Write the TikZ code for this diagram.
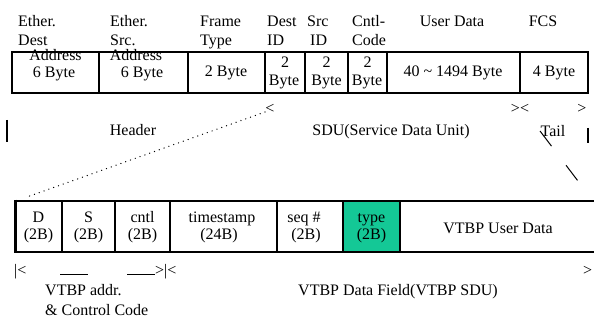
\documentclass[tikz,border=0pt]{standalone}
\usepackage{fontspec}
\setmainfont{Liberation Serif}
\definecolor{vtgreen}{RGB}{20,200,150}
\begin{document}
\begin{tikzpicture}[x=1pt,y=-1pt,font=\fontsize{16}{19}\selectfont,
  lw/.style={inner sep=0,anchor=base west},
  lc/.style={inner sep=0,anchor=base},
  outer/.style={line width=2pt},
  divider/.style={line width=2.5pt},
  thin divider/.style={line width=1.2pt},
  bar/.style={line width=2pt},
  dotconn/.style={line width=1.3pt,line cap=round,dash pattern=on 0.1pt off 5pt},
  dashconn/.style={line width=1pt,dash pattern=on 19pt off 24pt},
  rule/.style={line width=1pt}]
\useasboundingbox (0,0) rectangle (594,320);

% ---- labels above the frame
\node[lw] (l1a) at (18,26.5) {Ether.};
\node[lw] (l1b) at (18,45.5) {Dest};
\node[lw] (l2a) at (110,26.5) {Ether.};
\node[lw] (l2b) at (110,45.5) {Src.};
\node[lw] (l3a) at (200,26.5) {Frame};
\node[lw] (l3b) at (200,45.5) {Type};
\node[lw] (l4a) at (267,26.5) {Dest};
\node[lw] (l4b) at (267,45.5) {ID};
\node[lw] (l5a) at (307,26.5) {Src};
\node[lw] (l5b) at (310,45.5) {ID};
\node[lw] (l6a) at (352,26.5) {Cntl-};
\node[lw] (l6b) at (352,45.5) {Code};
\node[lc] (l7) at (452,26.5) {User Data};
\node[lc] (l8) at (543,26.5) {FCS};

% ---- contents of the frame
\node[lc] (c1a) at (55.5,61) {Address};
\node[lc] (c1b) at (54,78) {6 Byte};
\node[lc] (c2a) at (136,61) {Address};
\node[lc] (c2b) at (142,78) {6 Byte};
\node[lc] (c3) at (226,77) {2 Byte};
\node[lc] (c4a) at (285,67.5) {2};
\node[lc] (c4b) at (284,86) {Byte};
\node[lc] (c5a) at (326.5,67.5) {2};
\node[lc] (c5b) at (326.5,86) {Byte};
\node[lc] (c6a) at (367.5,67.5) {2};
\node[lc] (c6b) at (367,86) {Byte};
\node[lc] (c7) at (453,77) {40 \char"007E\ 1494 Byte};
\node[lc] (c8) at (554,77) {4 Byte};

% frame box
\draw[outer] (12,52) rectangle (588,93);
\foreach \x in {99,188,265,305,348,387,520}
  \draw[divider] (\x,52) -- (\x,93);

% ---- middle row
\node[lc] (mk1) at (270,114) {<};
\node[lc] (mk2) at (520,114) {><};
\node[lc] (mk3) at (582,114) {>};
\node[lc] (hdr) at (133,135.5) {Header};
\node[lc] (sdu) at (391,135.5) {SDU(Service Data Unit)};
\node[lc] (tail) at (553,137) {Tail};
\coordinate (barLa) at (7,120);
\coordinate (barLb) at (7,142);
\coordinate (barRa) at (588,128);
\coordinate (barRb) at (588,143);
\draw[bar] (barLa) -- (barLb);
\draw[bar] (barRa) -- (barRb);

% connectors from SDU to VTBP frame
\coordinate (sduStart) at (265,112);
\coordinate (vtL) at (27,197);
\coordinate (tailA) at (540,131);
\coordinate (tailB) at (581,185);
\draw[dotconn] (sduStart) -- (vtL);
\draw[dashconn] (tailA) -- (tailB);

% ---- VTBP frame
\fill[vtgreen] (343,201) rectangle (400,252);
\node[lc] (d1) at (38.5,222.5) {D};
\node[lc] (d2) at (38.5,240) {(2B)};
\node[lc] (s1) at (88.5,222.5) {S};
\node[lc] (s2) at (88.5,240) {(2B)};
\node[lc] (k1) at (142.5,222.5) {cntl};
\node[lc] (k2) at (142.5,240) {(2B)};
\node[lc] (t1) at (222,222.5) {timestamp};
\node[lc] (t2) at (219,240) {(24B)};
\node[lc] (q1) at (304,222.5) {seq \#};
\node[lc] (q2) at (306,240) {(2B)};
\node[lc] (y1) at (371.5,222.5) {type};
\node[lc] (y2) at (371.5,240) {(2B)};
\node[lc] (ud) at (498,233.5) {VTBP User Data};
\draw[line width=2.5pt] (15,201) -- (594,201);
\draw[line width=2.5pt] (15,252) -- (594,252);
\draw[line width=3pt] (15,199.75) -- (15,253.25);
\foreach \x in {62,115,170,277,343,400}
  \draw[thin divider] (\x,201) -- (\x,252);

% ---- bottom spans
\node[lw] (b1) at (14,276) {|<};
\node[lw] (b2) at (155,276) {>|<};
\node[lw] (b3) at (583,276) {>};
\coordinate (r1a) at (60,275);
\coordinate (r1b) at (88,275);
\coordinate (r2a) at (127,275);
\coordinate (r2b) at (155,275);
\draw[rule] (r1a) -- (r1b);
\draw[rule] (r2a) -- (r2b);
\node[lw] (va) at (45,295.5) {VTBP addr.};
\node[lw] (vb) at (45,315) {\& Control Code};
\node[lc] (vf) at (398,295.5) {VTBP Data Field(VTBP SDU)};
\end{tikzpicture}
\end{document}
